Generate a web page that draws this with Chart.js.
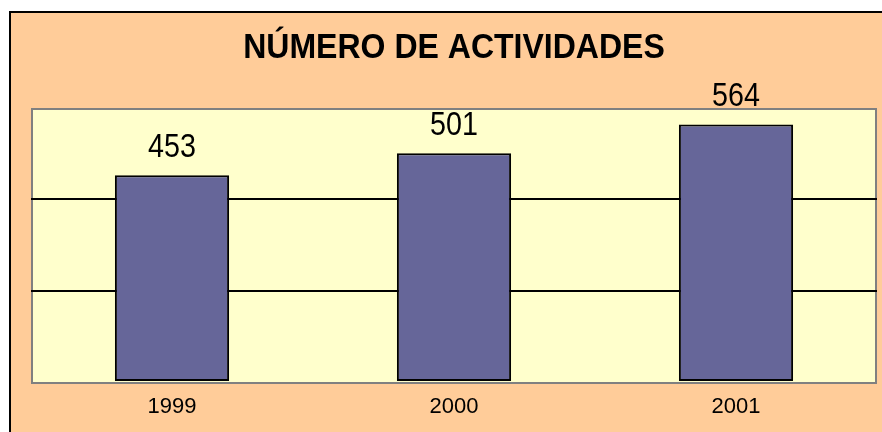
<!DOCTYPE html>
<html>
<head>
<meta charset="utf-8">
<script src="https://cdn.jsdelivr.net/npm/chart.js@4/dist/chart.umd.min.js"></script>
<style>
  html, body { margin: 0; padding: 0; background: #ffffff; }
  canvas { display: block; }
</style>
</head>
<body>
<canvas id="barChart" width="882" height="432"></canvas>
<script>
const chartTitle = "NÚMERO DE ACTIVIDADES";
const years = ["1999", "2000", "2001"];
const activities = [453, 501, 564];
const yTicks = [0, 200, 400, 600];

// draw text squeezed horizontally (the original uses a condensed bitmap face)
function squeezedText(ctx, text, x, y, sx) {
  ctx.save();
  ctx.translate(x, y);
  ctx.scale(sx, 1);
  ctx.fillText(text, 0, 0);
  ctx.restore();
}

// frame, orange page, yellow plot area and the title
const backdrop = {
  id: "backdrop",
  beforeDraw(chart) {
    const ctx = chart.ctx;
    const a = chart.chartArea;
    ctx.save();
    ctx.fillStyle = "#ffffff";
    ctx.fillRect(0, 0, chart.width, chart.height);
    ctx.fillStyle = "#FFCC99";
    ctx.fillRect(9, 11, chart.width, chart.height);
    ctx.fillStyle = "#000000";
    ctx.fillRect(9, 11, chart.width, 2);
    ctx.fillRect(9, 11, 2, chart.height);
    ctx.fillStyle = "#FFFFCC";
    ctx.fillRect(a.left, a.top, a.right - a.left, a.bottom - a.top);
    ctx.strokeStyle = "#808080";
    ctx.lineWidth = 2;
    ctx.strokeRect(a.left + 1, a.top + 1, a.right - a.left - 2, a.bottom - a.top);

    ctx.fillStyle = "#000000";
    ctx.font = "bold 35px 'Liberation Sans', Arial, sans-serif";
    ctx.textAlign = "center";
    ctx.textBaseline = "alphabetic";
    squeezedText(ctx, chartTitle, (a.left + a.right) / 2, 58, 0.915);
    ctx.restore();
  },
};

const valueLabels = {
  id: "valueLabels",
  afterDatasetsDraw(chart) {
    const ctx = chart.ctx;
    const meta = chart.getDatasetMeta(0);
    ctx.save();
    ctx.fillStyle = "#000000";
    ctx.font = "33px 'Liberation Sans', Arial, sans-serif";
    ctx.textAlign = "center";
    ctx.textBaseline = "alphabetic";
    meta.data.forEach((bar, i) => {
      squeezedText(ctx, String(activities[i]), bar.x, bar.y - 18, 0.87);
    });
    ctx.restore();
  },
};

new Chart(document.getElementById("barChart"), {
  type: "bar",
  data: {
    labels: years,
    datasets: [
      {
        data: activities,
        backgroundColor: "#666699",
        borderColor: "#000000",
        borderWidth: 2,
        borderSkipped: false,
        barPercentage: 0.405,
        categoryPercentage: 1.0,
      },
    ],
  },
  options: {
    responsive: false,
    animation: false,
    layout: { padding: { left: 31, right: 5, top: 108, bottom: 0 } },
    plugins: {
      legend: { display: false },
      tooltip: { enabled: false },
      title: { display: false },
    },
    scales: {
      x: {
        grid: { display: false },
        border: { display: false },
        ticks: {
          color: "#000000",
          padding: 4,
          font: { family: "'Liberation Sans', Arial, sans-serif", size: 22 },
        },
        afterFit(axis) { axis.height = 50; },
      },
      y: {
        min: 0,
        max: 600,
        afterBuildTicks(axis) { axis.ticks = yTicks.map((v) => ({ value: v })); },
        ticks: { display: false },
        border: { display: false },
        grid: {
          drawTicks: false,
          lineWidth: 2,
          color: (c) => (c.tick && (c.tick.value === 200 || c.tick.value === 400) ? "#000000" : "rgba(0,0,0,0)"),
        },
        afterFit(axis) { axis.width = 0; },
      },
    },
  },
  plugins: [backdrop, valueLabels],
});
</script>
</body>
</html>
